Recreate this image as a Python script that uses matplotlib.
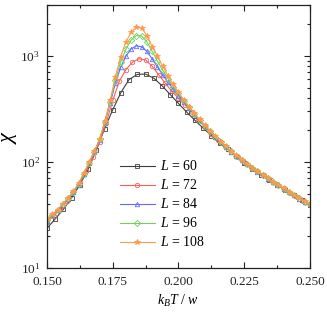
import matplotlib
matplotlib.use("Agg")
import matplotlib.pyplot as plt
import matplotlib.ticker as mticker
import numpy as np

plt.rcParams["font.family"] = ["Liberation Serif", "DejaVu Serif"]
plt.rcParams["mathtext.fontset"] = "custom"
plt.rcParams["mathtext.rm"] = "Liberation Serif"
plt.rcParams["mathtext.it"] = "Liberation Serif:italic"

# ---- data ----
# L = 60
t_60 = [0.1500, 0.1531, 0.1562, 0.1594, 0.1625, 0.1656, 0.1688, 0.1719, 0.1750,
        0.1781, 0.1812, 0.1844, 0.1875, 0.1906, 0.1938, 0.1969, 0.2000, 0.2031,
        0.2062, 0.2094, 0.2125, 0.2156, 0.2188, 0.2219, 0.2250, 0.2281, 0.2312,
        0.2344, 0.2375, 0.2406, 0.2438, 0.2469, 0.2500]
chi_60 = [23.7, 29.0, 35.7, 46.0, 61.0, 85.0, 130, 205, 310,
          450, 597, 668, 672, 615, 520, 430, 355, 295,
          247, 208, 177, 151, 131, 113, 98.0, 86.0, 76.0,
          67.5, 60.5, 54.5, 49.0, 43.8, 39.3]

# L = 72
t_72 = [0.1500, 0.1525, 0.1550, 0.1575, 0.1600, 0.1625, 0.1650, 0.1675, 0.1700,
        0.1725, 0.1750, 0.1775, 0.1800, 0.1825, 0.1850, 0.1875, 0.1900, 0.1925,
        0.1950, 0.1975, 0.2000, 0.2025, 0.2050, 0.2075, 0.2100, 0.2125, 0.2150,
        0.2175, 0.2200, 0.2225, 0.2250, 0.2275, 0.2300, 0.2325, 0.2350, 0.2375,
        0.2400, 0.2425, 0.2450, 0.2475, 0.2500]
chi_72 = [27.0, 31.0, 36.0, 43.0, 52.0, 63.0, 82.0, 112, 155,
          232, 380, 575, 740, 870, 938, 912, 795, 660,
          550, 462, 398, 343, 295, 250, 214, 184, 160,
          141, 125, 111.5, 100, 90.5, 82.0, 74.5, 68.0, 62.0,
          56.5, 51.5, 47.0, 43.3, 39.8]

# L = 84, 96, 108
t_big = [0.150, 0.152, 0.154, 0.156, 0.158, 0.160, 0.162, 0.164, 0.166, 0.168,
         0.170, 0.172, 0.174, 0.176, 0.178, 0.180, 0.182, 0.184, 0.186, 0.188,
         0.190, 0.192, 0.194, 0.196, 0.198, 0.200, 0.202, 0.204, 0.206, 0.208,
         0.210, 0.212, 0.214, 0.216, 0.218, 0.220, 0.222, 0.224, 0.226, 0.228,
         0.230, 0.232, 0.234, 0.236, 0.238, 0.240, 0.242, 0.244, 0.246, 0.248,
         0.250]
chi_84 = [28.0, 31.3, 35.0, 39.5, 45.0, 52.0, 61.0, 76.5, 97.5, 124,
          162, 235, 355, 550, 776, 990, 1160, 1240, 1215, 1100,
          933, 785, 660, 562, 484, 422, 366, 320, 281, 247,
          218, 194, 172, 154, 139, 125, 114, 104, 95.5, 87.8,
          81.0, 75.0, 69.6, 64.8, 60.4, 55.9, 52.1, 48.5, 45.2, 42.2,
          39.9]
chi_96 = [28.5, 31.7, 35.3, 39.8, 45.3, 52.3, 61.5, 77.5, 98.5, 125,
          163, 238, 367, 590, 870, 1150, 1410, 1550, 1530, 1350,
          1100, 890, 730, 610, 513, 442, 378, 327, 285, 250,
          220, 195, 173, 155, 139, 126, 114.5, 104.5, 96.0, 88.0,
          81.3, 75.2, 69.8, 65.0, 60.6, 56.1, 52.3, 48.7, 45.3, 42.3,
          40.0]
chi_108 = [29.0, 32.0, 35.6, 40.2, 45.7, 52.7, 63.0, 78.5, 99.0, 126,
           164, 243, 380, 631, 977, 1349, 1660, 1862, 1820, 1549,
           1216, 989, 794, 646, 537, 452, 385, 331, 288, 251,
           221, 196, 174, 155, 140, 126, 115, 105, 96.2, 88.3,
           81.5, 75.5, 70.0, 65.2, 60.8, 56.2, 52.4, 48.8, 45.4, 42.4,
           40.1]

series = [
    ("$L$ = 60", t_60, chi_60, "#3d3d3d", "s", "none"),
    ("$L$ = 72", t_72, chi_72, "#ff5c5c", "o", "none"),
    ("$L$ = 84", t_big, chi_84, "#5c6dff", "^", "none"),
    ("$L$ = 96", t_big, chi_96, "#6fd35a", "D", "none"),
    ("$L$ = 108", t_big, chi_108, "#ff9a4d", "*", "same"),
]

fig = plt.figure(figsize=(3.27, 3.18), dpi=100)
ax = fig.add_axes([0.1437, 0.157, 0.8043, 0.827])

for label, t, chi, color, marker, face in series:
    ax.plot(t, chi, color=color, linewidth=0.8, marker=marker,
            markersize=4.2 if marker == "*" else 3.2,
            markerfacecolor=color if face == "same" else "none",
            markeredgecolor=color, markeredgewidth=0.6, label=label)

ax.set_yscale("log")
ax.set_xlim(0.150, 0.250)
ax.set_ylim(10, 3000)
ax.xaxis.set_major_locator(mticker.MultipleLocator(0.025))
ax.xaxis.set_minor_locator(mticker.MultipleLocator(0.0125))
ax.xaxis.set_major_formatter(mticker.FormatStrFormatter("%.3f"))
ax.yaxis.set_major_locator(mticker.LogLocator(base=10))
ax.yaxis.set_minor_locator(mticker.LogLocator(base=10, subs=np.arange(2, 10)))
ax.yaxis.set_minor_formatter(mticker.NullFormatter())

ax.tick_params(which="both", direction="in", top=True, right=True, labelsize=9.5,
               width=0.8, colors="#222222")
ax.tick_params(which="major", length=4)
ax.tick_params(which="minor", length=2)
ax.tick_params(axis="x", pad=6)
ax.tick_params(axis="y", pad=5)
for s in ax.spines.values():
    s.set_linewidth(0.9)
    s.set_color("#222222")

ax.set_xlabel("$k_B T$ / $w$", fontsize=10, labelpad=3)
ax.set_ylabel("$\\chi$", fontsize=16, labelpad=1)

ax.legend(loc="upper left", bbox_to_anchor=(0.24, 0.45), frameon=False,
          fontsize=10, handlelength=2.5, labelspacing=0.36, handletextpad=0.4,
          borderpad=0.2)

fig.savefig("out.png", dpi=100)
